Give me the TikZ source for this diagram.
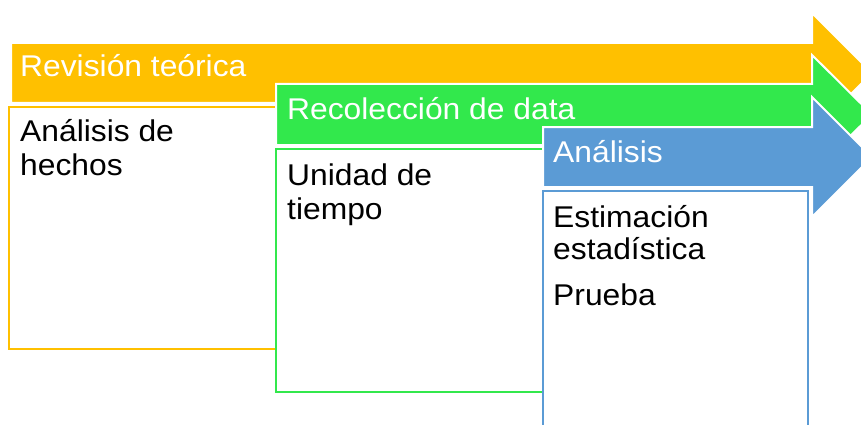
\documentclass[tikz,border=0pt]{standalone}
\usepackage{fontspec}
\setmainfont{Liberation Sans}[FakeStretch=1.06]
\definecolor{cYel}{RGB}{255,192,0}
\definecolor{cGrn}{RGB}{50,232,76}
\definecolor{cBlu}{RGB}{91,155,213}
\begin{document}
\begin{tikzpicture}[x=1pt,y=-1pt,
  arrowshape/.style={draw=white, line width=2pt, line join=miter},
  panel/.style={line width=2.5pt, line join=miter},
  headtxt/.style={anchor=base west, inner sep=0pt, text=white, font=\fontsize{30}{34}\selectfont},
  bodytxt/.style={anchor=base west, inner sep=0pt, text=black, font=\fontsize{30}{34}\selectfont}]
\useasboundingbox (0,0) rectangle (861,425);
\begin{scope}
\clip (0,0) rectangle (861,425);
% yellow stage
\filldraw[arrowshape, fill=cYel] (11,43) -- (812,43) -- (812,13) -- (872,73) -- (812,133) -- (812,103) -- (11,103) -- cycle;
\draw[panel, draw=cYel] (276,107) -- (9,107) -- (9,349) -- (276,349);
% green stage
\filldraw[arrowshape, fill=cGrn] (276,84) -- (812,84) -- (812,55) -- (872,114.5) -- (812,174) -- (812,145) -- (276,145) -- cycle;
\draw[panel, draw=cGrn] (543,149) -- (276,149) -- (276,392) -- (543,392);
% blue stage
\filldraw[arrowshape, fill=cBlu] (543,127) -- (812,127) -- (812,97) -- (872,157) -- (812,217) -- (812,187) -- (543,187) -- cycle;
\draw[panel, draw=cBlu, fill=white] (543,191) rectangle (808,445);
\end{scope}
% texts
\node[headtxt] (h1) at (20,77) {Revisión teórica};
\node[bodytxt] (b1a) at (20,141) {Análisis de};
\node[bodytxt] (b1b) at (20,175) {hechos};
\node[headtxt] (h2) at (287,120) {Recolección de data};
\node[bodytxt] (b2a) at (287,185) {Unidad de};
\node[bodytxt] (b2b) at (287,219) {tiempo};
\node[headtxt] (h3) at (553,162) {Análisis};
\node[bodytxt] (b3a) at (553,227) {Estimación};
\node[bodytxt] (b3b) at (553,259) {estadística};
\node[bodytxt] (b3c) at (553,305) {Prueba};
\end{tikzpicture}
\end{document}
